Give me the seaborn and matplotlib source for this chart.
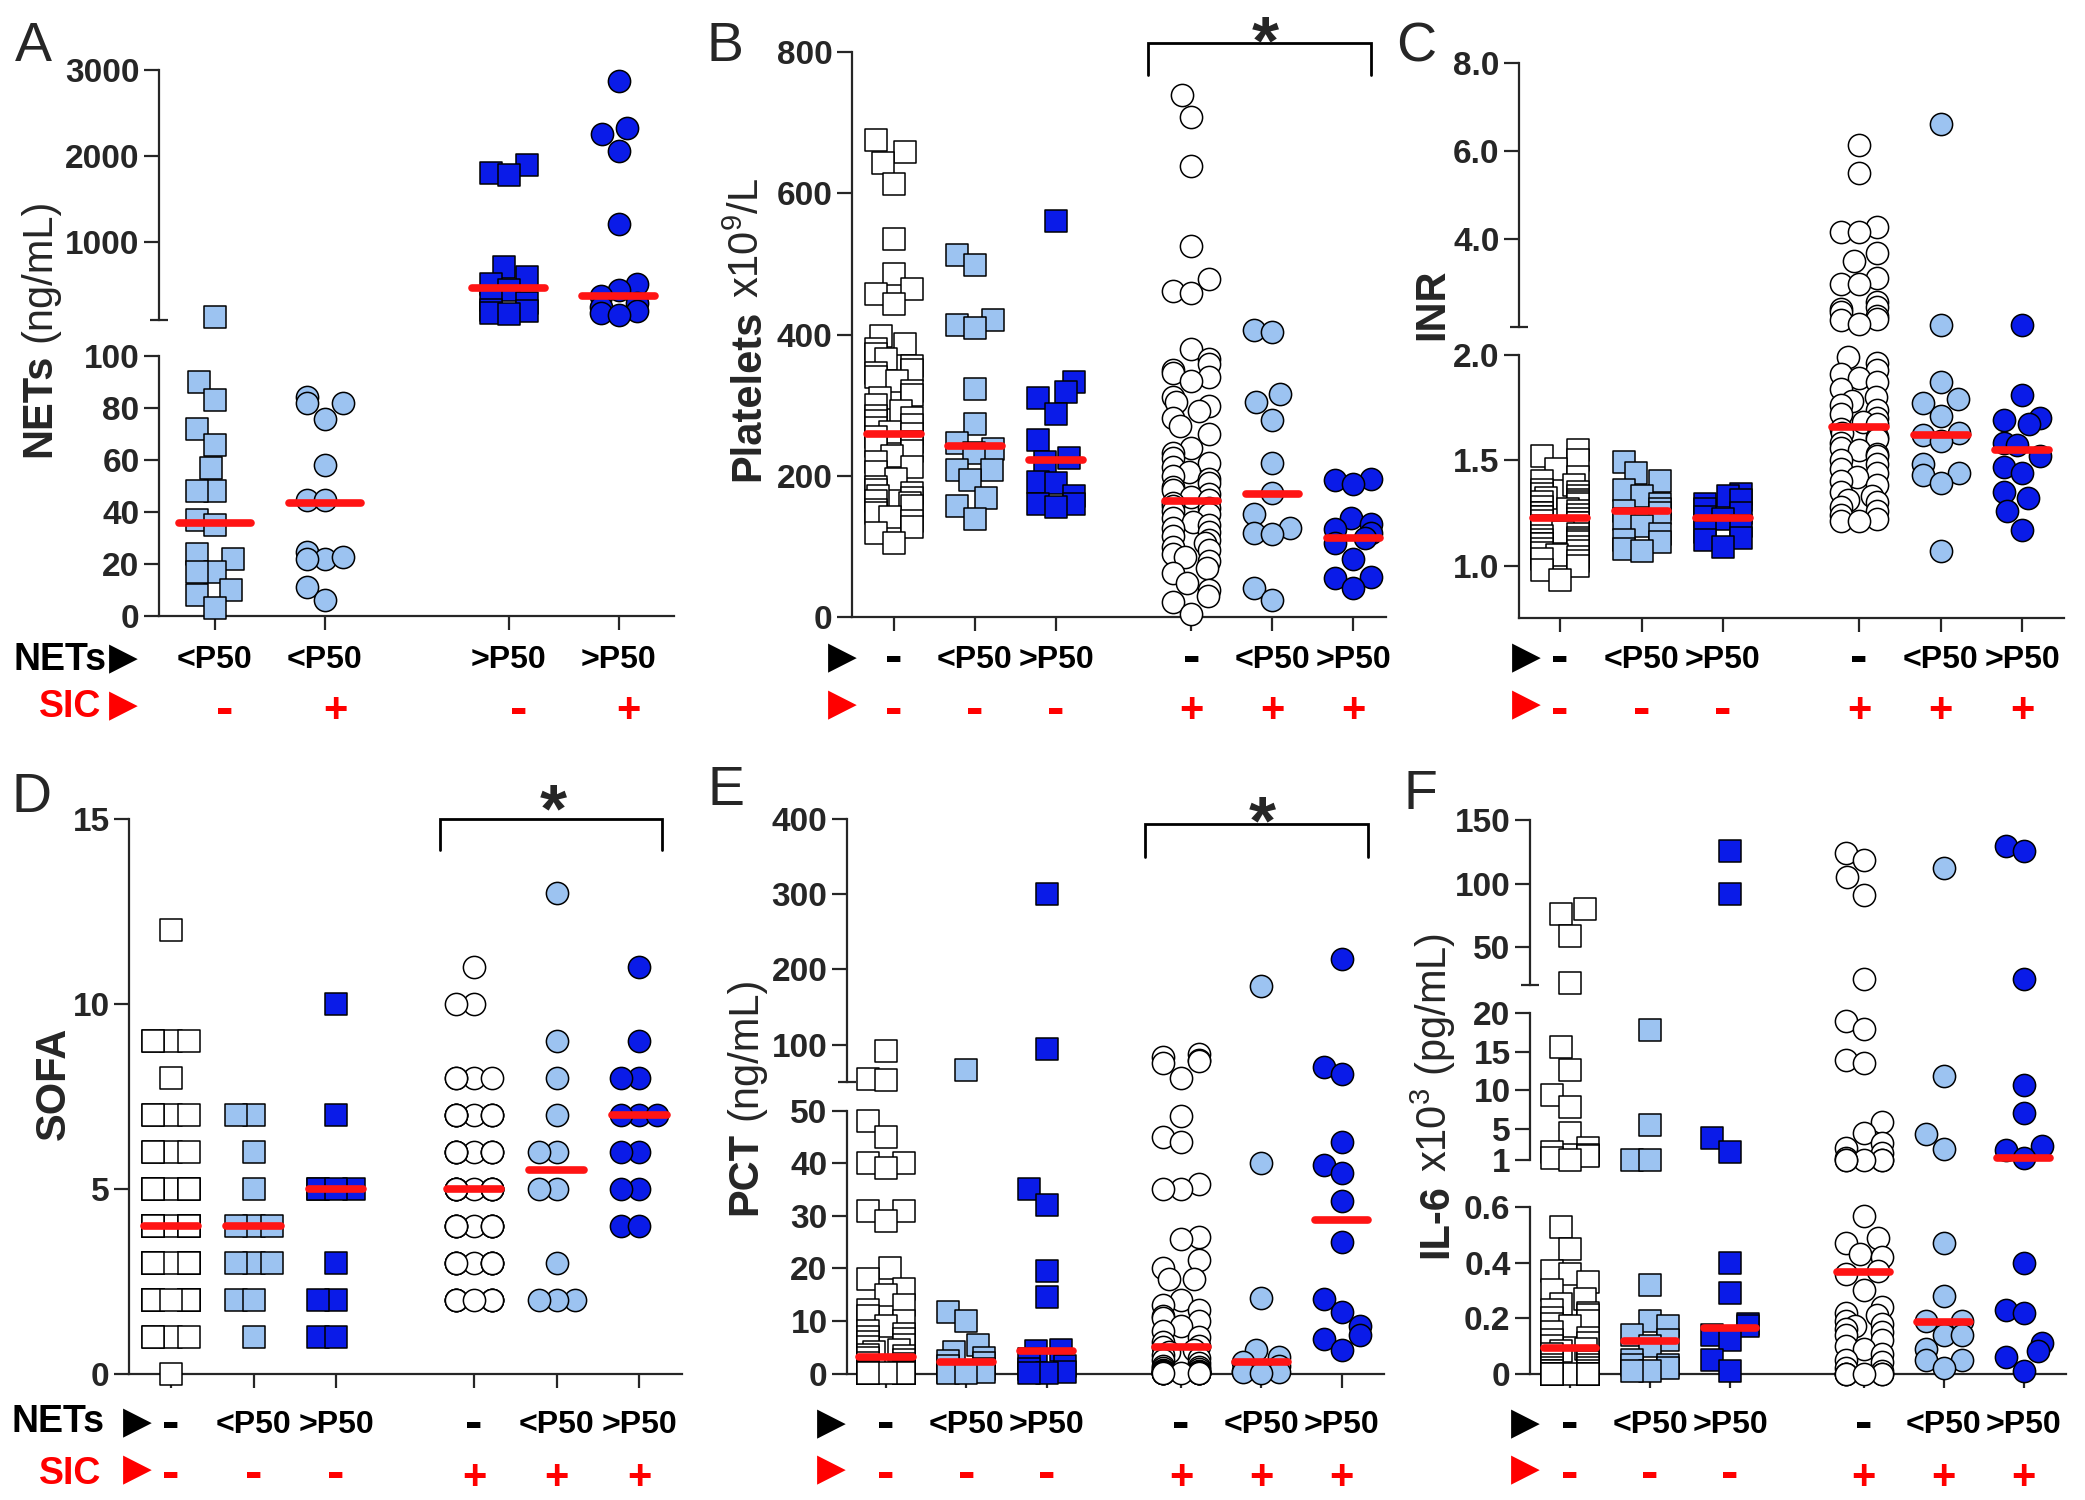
import numpy as np
import matplotlib
matplotlib.use("Agg")
import matplotlib.pyplot as plt
import matplotlib.transforms as mtransforms
import seaborn as sns

# ======================= values =======================
nets_row_A = ["<P50", "<P50", ">P50", ">P50"]
sic_row_A = ["-", "+", "-", "+"]
nets_row_six = ["-", "<P50", ">P50", "-", "<P50", ">P50"]
sic_row_six = ["-", "-", "-", "+", "+", "+"]

# ---- A: NETs (ng/mL)
netsA_low_neg = [137, 90, 83, 72, 66, 57, 48, 48, 37, 35, 24, 22, 17, 17, 10, 8, 3]
netsA_low_pos = [84.5, 82, 82, 76, 58, 44.5, 44.5, 24.5, 22, 22, 22.7, 11, 6]
netsA_high_neg = [1900, 1800, 1780, 720, 600, 520, 450, 330, 300, 220, 200, 180, 170]
netsA_high_pos = [2870, 2320, 2260, 2060, 1210, 520, 450, 380, 300, 250, 200, 180, 160]
netsA_medians = [35.8, 43.6, 475, 377]
netsA_ticks_low = [0, 20, 40, 60, 80, 100]
netsA_labels_low = ["0", "20", "40", "60", "80", "100"]
netsA_ticks_high = [1000, 2000, 3000]
netsA_labels_high = ["1000", "2000", "3000"]

# ---- B: Platelets x10^9/L
plt_1 = [675, 658, 643, 613, 535, 486, 465, 458, 443, 398, 386, 379, 372, 365, 356, 350,
         346, 340, 335, 320, 315, 310, 300, 292, 285, 282, 278, 272, 268, 262, 260, 255,
         248, 242, 235, 228, 220, 212, 205, 195, 185, 180, 176, 172, 169, 165, 162, 158,
         152, 148, 142, 136, 128, 119, 105]
plt_2 = [513, 498, 421, 413, 409, 323, 274, 246, 238, 232, 209, 209, 194, 169, 157, 139]
plt_3 = [561, 333, 319, 311, 288, 251, 225, 220, 192, 190, 172, 160, 160, 156]
plt_4 = [739, 708, 638, 525, 478, 461, 459, 379, 365, 359, 350, 346, 340, 335, 312, 305,
         299, 292, 282, 270, 259, 240, 232, 225, 218, 212, 206, 200, 195, 190, 185, 180,
         175, 170, 166, 162, 158, 154, 150, 146, 140, 135, 130, 126, 120, 115, 110, 105,
         100, 95, 89, 85, 79, 70, 62, 49, 39, 30, 22, 5]
plt_5 = [406, 404, 316, 305, 279, 219, 176, 146, 126, 119, 118, 42, 25]
plt_6 = [196, 194, 189, 140, 132, 125, 119, 112, 105, 82, 57, 55, 42]
plt_medians = [260, 243, 222, 164, 175, 112]
plt_ticks = [0, 200, 400, 600, 800]
plt_labels = ["0", "200", "400", "600", "800"]

# ---- C: INR
inr_1 = [1.55, 1.52, 1.50, 1.46, 1.42, 1.40, 1.38, 1.36, 1.35, 1.34, 1.33, 1.32, 1.31,
         1.30, 1.30, 1.29, 1.28, 1.27, 1.26, 1.25, 1.25, 1.24, 1.23, 1.23, 1.22, 1.21,
         1.20, 1.20, 1.19, 1.18, 1.17, 1.16, 1.15, 1.14, 1.13, 1.12, 1.12, 1.11, 1.10,
         1.10, 1.09, 1.08, 1.07, 1.06, 1.05, 1.04, 1.03, 1.02, 1.00, 0.98, 0.93]
inr_2 = [1.49, 1.44, 1.40, 1.36, 1.33, 1.29, 1.27, 1.26, 1.25, 1.22, 1.19, 1.15, 1.12,
         1.11, 1.08, 1.07]
inr_3 = [1.34, 1.33, 1.31, 1.29, 1.27, 1.25, 1.23, 1.22, 1.19, 1.16, 1.13, 1.12, 1.09]
inr_4 = [6.13, 5.50, 4.27, 4.16, 4.15, 3.68, 3.50, 3.10, 2.98, 2.97, 2.55, 2.45, 2.39,
         2.33, 2.25, 2.17, 2.16, 2.05, 1.99, 1.96, 1.93, 1.91, 1.89, 1.87, 1.84, 1.80,
         1.78, 1.76, 1.74, 1.72, 1.70, 1.68, 1.67, 1.65, 1.63, 1.61, 1.60, 1.58, 1.56,
         1.55, 1.53, 1.52, 1.50, 1.48, 1.46, 1.44, 1.42, 1.40, 1.38, 1.35, 1.33, 1.31,
         1.30, 1.28, 1.26, 1.24, 1.22, 1.21, 1.21]
inr_5 = [6.61, 2.03, 1.87, 1.79, 1.77, 1.71, 1.63, 1.62, 1.59, 1.48, 1.44, 1.43, 1.39, 1.07]
inr_6 = [2.03, 1.81, 1.70, 1.69, 1.67, 1.58, 1.57, 1.52, 1.47, 1.44, 1.35, 1.32, 1.26, 1.17]
inr_medians = [1.226, 1.258, 1.226, 1.66, 1.62, 1.55]
inr_ticks_low = [1.0, 1.5, 2.0]
inr_labels_low = ["1.0", "1.5", "2.0"]
inr_ticks_high = [4.0, 6.0, 8.0]
inr_labels_high = ["4.0", "6.0", "8.0"]

# ---- D: SOFA
sofa_1 = [12, 9, 9, 9, 9, 8, 7, 7, 7, 7, 6, 6, 6, 6, 5, 5, 5, 5, 5, 5, 5, 5,
          4, 4, 4, 4, 4, 4, 4, 4, 4, 4, 3, 3, 3, 3, 3, 3, 3, 3, 3, 3,
          2, 2, 2, 2, 2, 2, 2, 2, 2, 2, 2, 1, 1, 1, 1, 0]
sofa_2 = [7, 7, 6, 5, 4, 4, 4, 3, 3, 3, 2, 2, 1]
sofa_3 = [10, 7, 5, 5, 5, 5, 3, 2, 2, 1, 1]
sofa_4 = [11, 10, 10, 8, 8, 8, 8, 7, 7, 7, 7, 7, 7, 7, 7, 6, 6, 6, 6, 6, 6, 6, 6,
          5, 5, 5, 5, 5, 5, 5, 5, 5, 5, 4, 4, 4, 4, 4, 4, 4, 4, 4,
          3, 3, 3, 3, 3, 3, 3, 3, 3, 2, 2, 2, 2, 2, 2, 2, 2, 2]
sofa_5 = [13, 9, 8, 7, 6, 6, 5, 5, 3, 2, 2, 2]
sofa_6 = [11, 9, 8, 8, 7, 7, 7, 6, 6, 5, 5, 4, 4]
sofa_medians = [4, 4, 5, 5, 5.5, 7]
sofa_ticks = [0, 5, 10, 15]
sofa_labels = ["0", "5", "10", "15"]

# ---- E: PCT (ng/mL)
pct_1 = [92, 55, 53, 48, 45, 40, 40, 39, 31, 31, 29, 20, 18, 16, 15, 13, 12, 11, 10, 9, 8,
         7.5, 7, 6.5, 6, 5.5, 5, 4.5, 4, 3.5, 3.3, 3, 2.5, 2, 1.8, 1.5, 1.2, 1.0, 0.8, 0.6,
         0.5, 0.4, 0.3, 0.2, 0.2, 0.1, 0.1, 0.1, 0.05, 0.05, 0.05, 0.05, 0.05, 0.05, 0.05,
         0.05, 0.05, 0.05, 0.05, 0.05, 0.05]
pct_2 = [67, 11.7, 9.9, 5.4, 4, 3, 2.4, 2, 1.5, 0.8, 0.3, 0.2, 0.1, 0.1]
pct_3 = [300, 94, 35, 32, 19.5, 14.5, 4.5, 4.2, 2.7, 1.5, 0.9, 0.3, 0.1, 0.1]
pct_4 = [88, 84, 80, 78, 75, 56, 49, 45, 44, 36, 35, 35, 26, 25.6, 21.5, 20, 18, 18, 14,
         13, 12, 11, 10.5, 10, 9, 8, 7, 6, 5.3, 5, 4.5, 4, 3.5, 3, 2.5, 2, 1.5, 1.2, 1,
         0.8, 0.6, 0.5, 0.4, 0.3, 0.2, 0.2, 0.1, 0.1, 0.1, 0.05, 0.05, 0.05, 0.05, 0.05,
         0.05, 0.05, 0.05]
pct_5 = [178, 40, 14.4, 4.5, 3.1, 2.2, 1.5, 0.5, 0.3, 0.2, 0.1]
pct_6 = [214, 70, 61, 44, 39.7, 38.2, 32.8, 25.1, 14.2, 11.7, 9, 7.4, 6.6, 4.5]
pct_medians = [3.1, 2.2, 4.2, 5.1, 2.1, 29.2]
pct_ticks_low = [0, 10, 20, 30, 40, 50]
pct_labels_low = ["0", "10", "20", "30", "40", "50"]
pct_ticks_high = [100, 200, 300, 400]
pct_labels_high = ["100", "200", "300", "400"]

# ---- F: IL-6 x10^3 (pg/mL)
il6_1 = [80, 76, 58.6, 21.3, 15.6, 12.7, 9.4, 7.8, 4.4, 2.5, 2.0, 1.6, 1.5, 1.2, 1.0,
         0.53, 0.45, 0.37, 0.36, 0.33, 0.30, 0.27, 0.25, 0.23, 0.22, 0.21, 0.20, 0.19,
         0.18, 0.17, 0.15, 0.13, 0.12, 0.11, 0.10, 0.09, 0.08, 0.07, 0.06, 0.05, 0.04,
         0.03, 0.03, 0.02, 0.02, 0.01, 0.01, 0.01, 0.0, 0.0, 0.0, 0.0, 0.0, 0.0, 0.0,
         0.0, 0.0, 0.0, 0.0, 0.0, 0.0, 0.0, 0.0, 0.0, 0.0, 0.0, 0.0, 0.0, 0.0]
il6_2 = [17.8, 5.5, 1.0, 1.0, 0.32, 0.19, 0.17, 0.14, 0.12, 0.10, 0.05, 0.03, 0.03, 0.02,
         0.01, 0.01]
il6_3 = [126, 91.4, 3.8, 2.0, 0.40, 0.29, 0.18, 0.17, 0.14, 0.12, 0.05, 0.01]
il6_4 = [124, 119, 105, 91, 24.3, 19, 18, 14, 13.6, 5.9, 4.4, 3.2, 2.5, 1.9, 1.2, 1.0,
         1.0, 1.0, 1.0, 1.0, 0.57, 0.49, 0.47, 0.43, 0.42, 0.37, 0.36, 0.30, 0.24, 0.22,
         0.21, 0.19, 0.18, 0.17, 0.16, 0.15, 0.14, 0.12, 0.10, 0.09, 0.07, 0.05, 0.04,
         0.02, 0.01, 0.0, 0.0, 0.0, 0.0, 0.0, 0.0]
il6_5 = [112.7, 11.9, 4.3, 2.4, 0.47, 0.28, 0.19, 0.19, 0.14, 0.14, 0.09, 0.05, 0.05, 0.02]
il6_6 = [130, 126, 24.3, 10.7, 7.0, 2.7, 2.2, 1.2, 0.40, 0.23, 0.22, 0.11, 0.08, 0.06, 0.01]
il6_medians = [0.093, 0.119, 0.166, 0.368, 0.186, 1.17]
il6_ticks_low = [0, 0.2, 0.4, 0.6]
il6_labels_low = ["0", "0.2", "0.4", "0.6"]
il6_ticks_mid = [1, 5, 10, 15, 20]
il6_labels_mid = ["1", "5", "10", "15", "20"]
il6_ticks_high = [50, 100, 150]
il6_labels_high = ["50", "100", "150"]

# ======================= styles / layout (pixels of a 2085x1500 canvas) =======================
LB = "#9CC3F1"
BL = "#0A1BE8"
RED = "#FF1414"
STY_A = [("s", LB), ("o", LB), ("s", BL), ("o", BL)]
STY_SIX = [("s", "white"), ("s", LB), ("s", BL), ("o", "white"), ("o", LB), ("o", BL)]
XPOS_A = [0, 1, 2.67, 3.67]
XPOS_SIX = [0, 1, 2, 3.67, 4.67, 5.67]

TOP_ROWS = dict(caps=668, dash_black=658, dash_red=710, plus=707, nets=670, sic=717)
BOT_ROWS = dict(caps=1433, dash_black=1424, dash_red=1474, plus=1474, nets=1432, sic=1484)

PANELS = [
    dict(letter="A", letter_xy=(33, 61), groups=[netsA_low_neg, netsA_low_pos, netsA_high_neg, netsA_high_pos],
         medians=netsA_medians, styles=STY_A, xpos=XPOS_A, left=159, right=674, t0=215, unit=110,
         segs=[(0, 100, 356.3, 616, netsA_ticks_low, netsA_labels_low),
               (100, 3000, 69.8, 320, netsA_ticks_high, netsA_labels_high)],
         ylab=(50, 457, "NETs", "(ng/mL)"), nets=nets_row_A, sic=sic_row_A, rows=TOP_ROWS,
         tri=(123, 659, 706), rowtext=(107, 101), sic_dx=10, bracket=None),
    dict(letter="B", letter_xy=(725, 61), groups=[plt_1, plt_2, plt_3, plt_4, plt_5, plt_6],
         medians=plt_medians, styles=STY_SIX, xpos=XPOS_SIX, left=852, right=1386, t0=894, unit=81,
         segs=[(0, 800, 51.9, 617.3, plt_ticks, plt_labels)],
         ylab=(759, 481, "Platelets", "x10$^{9}$/L"), nets=nets_row_six, sic=sic_row_six, rows=TOP_ROWS,
         tri=(842, 658, 705), rowtext=None, sic_dx=0,
         bracket=(3.14, 5.89, 767, 813, 4.58, 25)),
    dict(letter="C", letter_xy=(1416, 61), groups=[inr_1, inr_2, inr_3, inr_4, inr_5, inr_6],
         medians=inr_medians, styles=STY_SIX, xpos=XPOS_SIX, left=1519, right=2064, t0=1560, unit=81.5,
         segs=[(0.75, 2.0, 354.9, 618.2, inr_ticks_low, inr_labels_low),
               (2.0, 8.0, 62.8, 326.6, inr_ticks_high, inr_labels_high)],
         ylab=(1443, 340, "INR", None), nets=nets_row_six, sic=sic_row_six, rows=TOP_ROWS,
         tri=(1526, 658, 705), rowtext=None, sic_dx=0, bracket=None),
    dict(letter="D", letter_xy=(32, 812), groups=[sofa_1, sofa_2, sofa_3, sofa_4, sofa_5, sofa_6],
         medians=sofa_medians, styles=STY_SIX, xpos=XPOS_SIX, left=129, right=682, t0=171, unit=82.6,
         segs=[(0, 15, 819, 1373.5, sofa_ticks, sofa_labels)],
         ylab=(65, 1140, "SOFA", None), nets=nets_row_six, sic=sic_row_six, rows=BOT_ROWS,
         tri=(137, 1423, 1470), rowtext=(105, 101), sic_dx=0,
         bracket=(3.26, 5.94, 14.17, 15.0, 4.63, 793)),
    dict(letter="E", letter_xy=(726, 805), groups=[pct_1, pct_2, pct_3, pct_4, pct_5, pct_6],
         medians=pct_medians, styles=STY_SIX, xpos=XPOS_SIX, left=847, right=1384, t0=886, unit=80.4,
         segs=[(0, 50, 1110.6, 1373.5, pct_ticks_low, pct_labels_low),
               (50, 400, 819, 1082.3, pct_ticks_high, pct_labels_high)],
         ylab=(756, 1215, "PCT", "(ng/mL)"), nets=nets_row_six, sic=sic_row_six, rows=BOT_ROWS,
         tri=(831, 1424, 1470), rowtext=None, sic_dx=0,
         bracket=(3.22, 5.99, 350, 394, 4.68, 805)),
    dict(letter="F", letter_xy=(1420, 809), groups=[il6_1, il6_2, il6_3, il6_4, il6_5, il6_6],
         medians=il6_medians, styles=STY_SIX, xpos=XPOS_SIX, left=1530, right=2066, t0=1570, unit=80,
         segs=[(0, 0.6, 1207.4, 1373.5, il6_ticks_low, il6_labels_low),
               (1, 20, 1013.4, 1159.5, il6_ticks_mid, il6_labels_mid),
               (20, 150, 820.4, 984.7, il6_ticks_high, il6_labels_high)],
         ylab=(1447, 1258, "IL-6", "x10$^{3}$ (pg/mL)"), nets=nets_row_six, sic=sic_row_six, rows=BOT_ROWS,
         tri=(1525, 1424, 1470), rowtext=None, sic_dx=0, bracket=None),
]

# ======================= drawing =======================
sns.set_style("ticks")
plt.rcParams["font.family"] = ["Liberation Sans", "DejaVu Sans"]
plt.rcParams["mathtext.fontset"] = "custom"
plt.rcParams["mathtext.rm"] = "Liberation Sans"
plt.rcParams["mathtext.it"] = "Liberation Sans:italic"
plt.rcParams["mathtext.bf"] = "Liberation Sans:bold"
plt.rcParams["axes.linewidth"] = 1.6

W, H = 2085, 1500
fig = plt.figure(figsize=(W / 100, H / 100), dpi=100)
PIX = mtransforms.Affine2D().scale(1.0 / W, -1.0 / H).translate(0, 1) + fig.transFigure
SW = 45.0          # pixels per swarm data unit (controls the swarm spread)
MSIZE = 16
TICK_FS = 24
CAP_FS = 23
DASH_FS = 38
PLUS_FS = 30
DASH_OFF = 0.28 * DASH_FS * 100 / 72
PLUS_OFF = 0.35 * PLUS_FS * 100 / 72


def fy(py):
    return 1 - py / H


for P in PANELS:
    k = P["unit"] / SW
    xs = [p * k for p in P["xpos"]]
    xlim = ((P["left"] - P["t0"]) / SW, (P["right"] - P["t0"]) / SW)
    segs = P["segs"]
    nseg = len(segs)
    seg_axes = []
    for i, (lo, hi, top, bot, ticks, labels) in enumerate(segs):
        ax = fig.add_axes([P["left"] / W, 1 - bot / H, (P["right"] - P["left"]) / W, (bot - top) / H])
        ax.patch.set_alpha(0)
        for gi, vals in enumerate(P["groups"]):
            v = np.asarray(vals, dtype=float)
            keep = np.ones(len(v), bool)
            if i > 0:
                keep &= v >= lo
            if i < nseg - 1:
                keep &= v < segs[i + 1][0]
            sel = v[keep]
            if len(sel) == 0:
                continue
            mk, fc = P["styles"][gi]
            sns.swarmplot(x=np.full(len(sel), xs[gi]), y=sel, native_scale=True, orient="x",
                          marker=mk, color=fc, edgecolor="black", linewidth=1.1, size=MSIZE,
                          warn_thresh=1.0, ax=ax, clip_on=False, zorder=3)
        # median bars
        for gi, m in enumerate(P["medians"]):
            if lo <= m <= hi:
                hw = 0.33 * k
                lc = ax.hlines(m, xs[gi] - hw, xs[gi] + hw, colors=RED, linewidth=5.5,
                               zorder=6, clip_on=False)
                lc.set_capstyle("round")
        ax.set_xlim(*xlim)
        ax.set_ylim(lo, hi)
        ax.set_xlabel("")
        ax.set_ylabel("")
        ax.spines["top"].set_visible(False)
        ax.spines["right"].set_visible(False)
        ax.set_yticks(ticks)
        ax.set_yticklabels(labels, fontsize=TICK_FS, fontweight="bold")
        ax.tick_params(axis="y", which="major", direction="out", length=11, width=1.6, pad=3)
        minor = []
        if i > 0:
            minor.append(lo)
        if i < nseg - 1:
            minor.append(hi)
        if minor:
            ax.set_yticks(minor, minor=True)
            if all(any(abs(mv - t) < 1e-9 for t in ticks) for mv in minor):
                ax.tick_params(axis="y", which="minor", direction="in", length=7, width=1.6)
            else:
                ax.tick_params(axis="y", which="minor", direction="inout", length=13, width=1.6)
        if i == 0:
            ax.set_xticks(xs)
            ax.set_xticklabels([])
            ax.tick_params(axis="x", direction="out", length=10, width=1.6)
        else:
            ax.spines["bottom"].set_visible(False)
            ax.set_xticks([])
        seg_axes.append(ax)

    ax0 = seg_axes[0]
    axt = seg_axes[-1]
    # significance bracket
    if P["bracket"] is not None:
        bx0, bx1, by0, by1, sx, sy = P["bracket"]
        axt.plot([bx0 * k, bx0 * k, bx1 * k, bx1 * k], [by0, by1, by1, by0], color="black",
                 lw=2.0, clip_on=False, solid_joinstyle="miter")
        trs = mtransforms.blended_transform_factory(axt.transData, PIX)
        axt.text(sx * k, sy + 0.56 * 50 * 100 / 72, "*", transform=trs, ha="center", va="baseline",
                 fontsize=50, fontweight="bold", clip_on=False)

    # group label rows
    R = P["rows"]
    tr = mtransforms.blended_transform_factory(ax0.transData, PIX)
    sdx = P["sic_dx"] / SW
    for x, n, s in zip(xs, P["nets"], P["sic"]):
        if n == "-":
            ax0.text(x, R["dash_black"] + DASH_OFF, "-", transform=tr, ha="center", va="baseline",
                     fontsize=DASH_FS, fontweight="bold", color="black")
        else:
            ax0.text(x, R["caps"], n, transform=tr, ha="center", va="baseline",
                     fontsize=CAP_FS, fontweight="bold", color="black")
        if s == "-":
            ax0.text(x + sdx, R["dash_red"] + DASH_OFF, "-", transform=tr, ha="center", va="baseline",
                     fontsize=DASH_FS, fontweight="bold", color="red")
        else:
            ax0.text(x + sdx, R["plus"] + PLUS_OFF, "+", transform=tr, ha="center", va="baseline",
                     fontsize=PLUS_FS, fontweight="bold", color="red")
    tx, ty1, ty2 = P["tri"]
    fig.text(tx / W, fy(ty1), "\u25B6", family=["DejaVu Sans"], fontsize=27, ha="center",
             va="center", color="black")
    fig.text(tx / W, fy(ty2), "\u25B6", family=["DejaVu Sans"], fontsize=27, ha="center",
             va="center", color="red")
    if P["rowtext"] is not None:
        nx, sx_ = P["rowtext"]
        fig.text(nx / W, fy(R["nets"]), "NETs", ha="right", va="baseline", fontsize=27,
                 fontweight="bold", color="black")
        fig.text(sx_ / W, fy(R["sic"]), "SIC", ha="right", va="baseline", fontsize=27,
                 fontweight="bold", color="red")

    # panel letter
    lx, ly = P["letter_xy"]
    fig.text(lx / W, fy(ly), P["letter"], ha="center", va="baseline", fontsize=40)

    # y label (bold part + regular part)
    bx, by, btxt, rtxt = P["ylab"]
    t = fig.text(bx / W, fy(by), btxt, rotation=90, rotation_mode="anchor", ha="left",
                 va="baseline", fontsize=30, fontweight="bold")
    if rtxt:
        renderer = fig.canvas.get_renderer()
        bb = t.get_window_extent(renderer=renderer)
        fig.text(bx / W, (bb.y1 + 12) / H, rtxt, rotation=90, rotation_mode="anchor", ha="left",
                 va="baseline", fontsize=30, fontweight="normal")

fig.savefig("out.png", dpi=100)
